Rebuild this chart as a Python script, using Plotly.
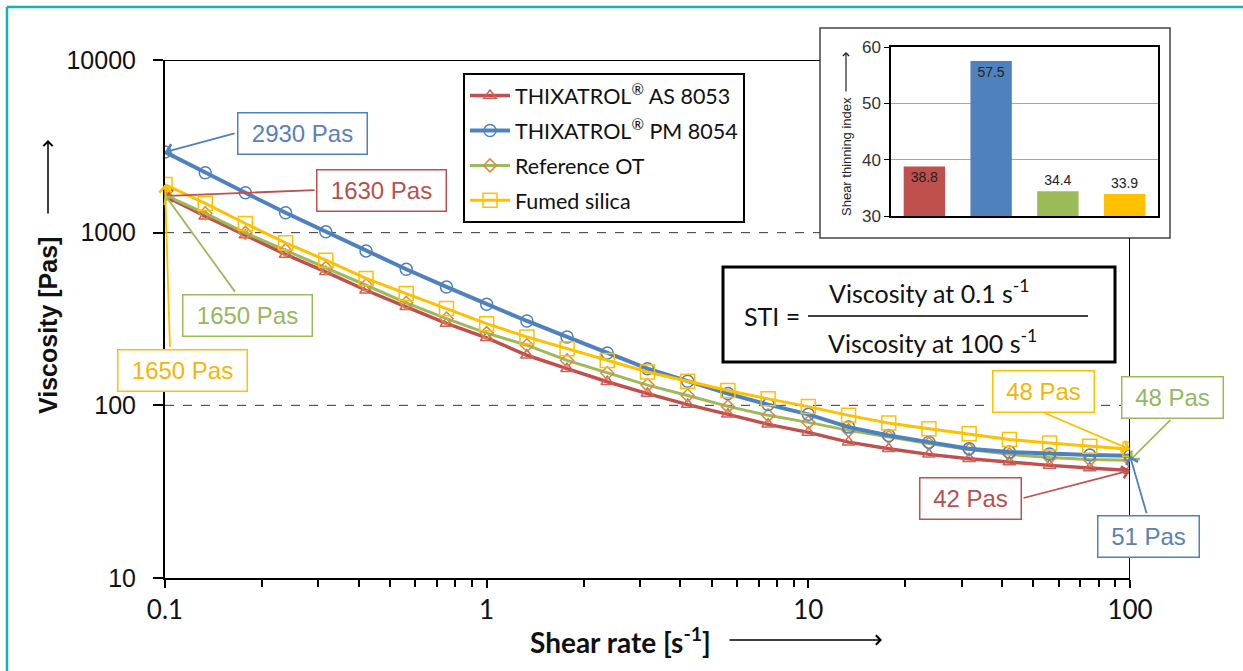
import math
import plotly.graph_objects as go

# ---------------- data ----------------
shear_rate = [0.1, 0.1334, 0.1778, 0.2371, 0.3162, 0.4217, 0.5623, 0.7499,
              1.0, 1.334, 1.778, 2.371, 3.162, 4.217, 5.623, 7.499,
              10.0, 13.34, 17.78, 23.71, 31.62, 42.17, 56.23, 74.99, 100.0]

visc_as8053 = [1630, 1246, 968, 748, 593, 464, 372, 298,
               246, 195, 163, 137, 117, 101, 88.7, 77.6,
               69.7, 61.2, 56.1, 52.0, 49.1, 46.9, 44.9, 43.3, 42]
visc_pm8054 = [2930, 2223, 1701, 1303, 1011, 784, 614, 485,
               385, 308, 249, 201, 163, 138, 117, 101,
               88.7, 74.8, 66.9, 61.2, 56.1, 53.6, 52.3, 51.5, 51]
visc_ref_ot = [1650, 1295, 997, 792, 625, 496, 392, 318,
               262, 223, 182, 154, 131, 114, 98.6, 87.5,
               79.7, 71.6, 65.5, 60.0, 55.4, 52.0, 49.8, 48.5, 48]
visc_fumed = [1900, 1476, 1130, 873, 693, 543, 444, 364,
              297, 249, 213, 182, 156, 138, 122, 109,
              98.3, 87.5, 78.9, 73.2, 68.5, 63.5, 60.5, 57.9, 55.6]

series_names = ["THIXATROL<sup>®</sup> AS 8053", "THIXATROL<sup>®</sup> PM 8054",
                "Reference OT", "Fumed silica"]
sti_values = [38.8, 57.5, 34.4, 33.9]
sti_labels = ["38.8", "57.5", "34.4", "33.9"]

x_tick_vals = [0.1, 1, 10, 100]
x_tick_text = ["0.1", "1", "10", "100"]
y_tick_vals = [10, 100, 1000, 10000]
y_tick_text = ["10", "100", "1000", "10000"]
y_grid_vals = [100, 1000]

# ---------------- styles ----------------
RED, BLUE, GREEN, YELLOW = "#C0504D", "#4F81BD", "#9BBB59", "#FFC000"
TXT_RED, TXT_BLUE, TXT_GREEN, TXT_YELLOW = "#B9504D", "#5B80B8", "#94B860", "#F2B705"
LATO = "Lato, 'Open Sans', sans-serif"
ARIAL = "'Liberation Sans', Arial, sans-serif"

W, H = 1243, 671
ML, MR, MT, MB = 165, 60, 25, 93
PW, PH = W - ML - MR, H - MT - MB


def px_x(px):
    return (px - ML) / PW


def px_y(py):
    return (H - MB - py) / PH


fig = go.Figure()

styles = {
    "red": dict(line=dict(color=RED, width=3.5),
                marker=dict(symbol="triangle-up-open", size=11, color="#D0605C", line=dict(width=1.5))),
    "blue": dict(line=dict(color=BLUE, width=4),
                 marker=dict(symbol="circle-open", size=12, color=BLUE, line=dict(width=1.5))),
    "green": dict(line=dict(color=GREEN, width=3),
                  marker=dict(symbol="diamond-open", size=10, color="#DB8A45", line=dict(width=1.5))),
    "yellow": dict(line=dict(color=YELLOW, width=3),
                   marker=dict(symbol="square-open", size=14, color=YELLOW, line=dict(width=1.5))),
}

traces = [
    (series_names[0], visc_as8053, "red", 1),
    (series_names[2], visc_ref_ot, "green", 3),
    (series_names[1], visc_pm8054, "blue", 2),
    (series_names[3], visc_fumed, "yellow", 4),
]
for name, vals, key, rank in traces:
    fig.add_trace(go.Scatter(
        x=shear_rate, y=vals, name=name, mode="lines+markers",
        legendrank=rank, legendgroup=name, xaxis="x", yaxis="y",
        **styles[key]))

# inset bar chart
fig.add_trace(go.Bar(
    x=[0, 1, 2, 3], y=sti_values,
    marker=dict(color=[RED, BLUE, GREEN, YELLOW], line=dict(width=0)),
    width=0.62, text=sti_labels,
    textposition=["inside", "inside", "outside", "outside"],
    insidetextanchor="end",
    textfont=dict(family=ARIAL, size=14, color="#222222"),
    outsidetextfont=dict(family=ARIAL, size=14, color="#222222"),
    insidetextfont=dict(family=ARIAL, size=14, color="#222222"),
    cliponaxis=False, showlegend=False, xaxis="x2", yaxis="y2"))

main_right = px_x(1130)
main_top = px_y(60)
inset_left = px_x(820)

fig.update_layout(
    width=W, height=H,
    margin=dict(l=ML, r=MR, t=MT, b=MB),
    paper_bgcolor="white", plot_bgcolor="rgba(0,0,0,0)",
    xaxis=dict(type="log", range=[-1, 2], domain=[0, main_right],
               showline=True, linecolor="black", linewidth=2, mirror=False,
               showgrid=False, zeroline=False,
               ticks="outside", ticklen=8, tickwidth=1.5, tickcolor="black",
               tickvals=x_tick_vals, ticktext=x_tick_text,
               tickfont=dict(family=LATO, size=26, color="#111"),
               minor=dict(ticks="outside", ticklen=7, tickwidth=1.5, tickcolor="black",
                          tickvals=[m * 10 ** e for e in (-1, 0, 1) for m in range(2, 10)],
                          showgrid=False),
               anchor="y"),
    yaxis=dict(type="log", range=[1, 4], domain=[0, main_top],
               showline=True, linecolor="black", linewidth=2, mirror=False,
               showgrid=False, zeroline=False,
               ticks="outside", ticklen=10, tickwidth=1.5, tickcolor="black",
               tickvals=y_tick_vals, ticktext=y_tick_text,
               tickfont=dict(family=ARIAL, size=25, color="#111"),
               ticklabelstandoff=12,
               anchor="x"),
    xaxis2=dict(domain=[px_x(891), px_x(1158)], range=[-0.5, 3.5], anchor="y2",
                showline=True, linecolor="black", linewidth=1.5, mirror=True,
                showticklabels=False, ticks="", showgrid=False, zeroline=False),
    yaxis2=dict(domain=[px_y(216), px_y(47)], range=[30, 60], anchor="x2",
                tickvals=[30, 40, 50, 60],
                showline=True, linecolor="black", linewidth=1.5, mirror=True,
                ticks="outside", ticklen=5, tickcolor="black",
                showgrid=True, gridcolor="#A6A6A6", gridwidth=1, zeroline=False,
                tickfont=dict(family=ARIAL, size=17, color="#333")),
    legend=dict(x=px_x(463), y=px_y(73), xanchor="left", yanchor="top",
                bgcolor="white", bordercolor="black", borderwidth=2,
                font=dict(family=LATO, size=21.5, color="#111"),
                tracegroupgap=4, itemwidth=40),
    showlegend=True,
)

shapes = []
# teal frame: only the left and top edges fall inside the picture
shapes.append(dict(type="line", xref="paper", yref="paper",
                   x0=px_x(7), x1=px_x(7), y0=px_y(700), y1=px_y(7),
                   line=dict(color="#14B3AE", width=2.5)))
shapes.append(dict(type="line", xref="paper", yref="paper",
                   x0=px_x(7), x1=px_x(1300), y0=px_y(7), y1=px_y(7),
                   line=dict(color="#14B3AE", width=2.5)))
# dashed gridlines (the one at 1000 is hidden behind the inset)
for gv in y_grid_vals:
    shapes.append(dict(type="line", xref="paper", yref="y", x0=0,
                       x1=inset_left if gv >= 1000 else main_right, y0=gv, y1=gv,
                       line=dict(color="#333", width=1, dash="dash"), layer="below"))
# top / right frame of main plot
shapes.append(dict(type="line", xref="paper", yref="y", x0=0, x1=inset_left,
                   y0=y_tick_vals[-1], y1=y_tick_vals[-1],
                   line=dict(color="black", width=2)))
shapes.append(dict(type="line", xref="x", yref="paper", x0=x_tick_vals[-1], x1=x_tick_vals[-1],
                   y0=0, y1=px_y(238), line=dict(color="black", width=2)))
# inset box
shapes.append(dict(type="rect", xref="paper", yref="paper",
                   x0=inset_left, x1=px_x(1170), y0=px_y(238), y1=px_y(28),
                   line=dict(color="#444", width=1.5), fillcolor="white", layer="below"))
# formula box
shapes.append(dict(type="rect", xref="paper", yref="paper",
                   x0=px_x(723), x1=px_x(1115), y0=px_y(362), y1=px_y(267),
                   line=dict(color="black", width=3), fillcolor="white", layer="below"))
shapes.append(dict(type="line", xref="paper", yref="paper",
                   x0=px_x(808), x1=px_x(1088), y0=px_y(316), y1=px_y(316),
                   line=dict(color="black", width=1.5)))
fig.update_layout(shapes=shapes)

C = dict(xanchor="center", yanchor="middle")
ann = []
# axis titles
ann.append(dict(text="<b>Viscosity [Pas]</b>", xref="paper", yref="paper",
                x=px_x(48), y=px_y(326), textangle=-90, showarrow=False,
                font=dict(family=ARIAL, size=25, color="#111"), **C))
ann.append(dict(text="", xref="paper", yref="paper", x=px_x(48), y=px_y(140),
                ax=0, ay=75, showarrow=True, arrowhead=4, arrowsize=1.2, arrowwidth=1.5,
                arrowcolor="black", standoff=0, **C))
ann.append(dict(text="<b>Shear rate [s<sup>-1</sup>]</b>", xref="paper", yref="paper",
                x=px_x(620), y=px_y(640), showarrow=False,
                font=dict(family=LATO, size=28, color="#111"), **C))
ann.append(dict(text="", xref="paper", yref="paper", x=px_x(882), y=px_y(640),
                ax=-154, ay=0, showarrow=True, arrowhead=4, arrowsize=1.2, arrowwidth=1.5,
                arrowcolor="black", standoff=0, **C))
# inset title
ann.append(dict(text="Shear thinning index", xref="paper", yref="paper",
                x=px_x(846), y=px_y(157), textangle=-90, showarrow=False,
                font=dict(family=ARIAL, size=13, color="#222"), **C))
ann.append(dict(text="", xref="paper", yref="paper", x=px_x(846), y=px_y(52),
                ax=0, ay=41, showarrow=True, arrowhead=4, arrowsize=1, arrowwidth=1.2,
                arrowcolor="#222", standoff=0, **C))
# formula
ann.append(dict(text="STI =", xref="paper", yref="paper", x=px_x(772), y=px_y(316),
                showarrow=False, font=dict(family=LATO, size=25, color="#111"), **C))
ann.append(dict(text="Viscosity at 0.1 s<sup>-1</sup>", xref="paper", yref="paper",
                x=px_x(929), y=px_y(291), showarrow=False,
                font=dict(family=LATO, size=25, color="#111"), **C))
ann.append(dict(text="Viscosity at 100 s<sup>-1</sup>", xref="paper", yref="paper",
                x=px_x(932), y=px_y(341), showarrow=False,
                font=dict(family=LATO, size=25, color="#111"), **C))

# arrows pointing at data values (tip in data coords, tail offset in pixels)
arrows = [
    (shear_rate[0], visc_pm8054[0], 71, -19, BLUE),
    (shear_rate[0], visc_as8053[0], 151, -6, RED),
    (shear_rate[0], visc_ref_ot[0], 71, 98, GREEN),
    (shear_rate[0], visc_fumed[0], 5, 164, YELLOW),
    (shear_rate[-1], visc_fumed[-1], -87, -37, YELLOW),
    (shear_rate[-1], visc_ref_ot[-1], 42, -42, GREEN),
    (shear_rate[-1], visc_as8053[-1], -108, 28, RED),
    (shear_rate[-1], visc_pm8054[-1], 17, 59, BLUE),
]
for x, y, ax, ay, col in arrows:
    ann.append(dict(text="", xref="x", yref="y", x=math.log10(x), y=math.log10(y),
                    ax=ax, ay=ay, showarrow=True, arrowhead=4, arrowsize=1.3, arrowwidth=1.8,
                    arrowcolor=col, standoff=0, **C))

# value labels with boxes (drawn after arrows so boxes sit on top)
labels = [
    ("2930 Pas", TXT_BLUE, BLUE, 302, 133, 126),
    ("1630 Pas", TXT_RED, RED, 381, 190, 126),
    ("1650 Pas", TXT_GREEN, GREEN, 247, 315, 126),
    ("1650 Pas", TXT_YELLOW, YELLOW, 182, 370, 126),
    ("48 Pas", TXT_YELLOW, YELLOW, 1043, 391, 98),
    ("48 Pas", TXT_GREEN, GREEN, 1172, 397, 98),
    ("42 Pas", TXT_RED, RED, 970, 498, 98),
    ("51 Pas", TXT_BLUE, BLUE, 1148, 536, 98),
]
for text, tcol, bcol, cx, cy, w in labels:
    ann.append(dict(text=text, xref="paper", yref="paper", x=px_x(cx), y=px_y(cy),
                    showarrow=False, width=w, height=38, bgcolor="white",
                    bordercolor=bcol, borderwidth=1.5, borderpad=1,
                    font=dict(family=ARIAL, size=24, color=tcol), **C))

fig.update_layout(annotations=ann)

fig.write_html("out.html", config={"displayModeBar": False},
               post_script="document.body.style.margin='0px';")
